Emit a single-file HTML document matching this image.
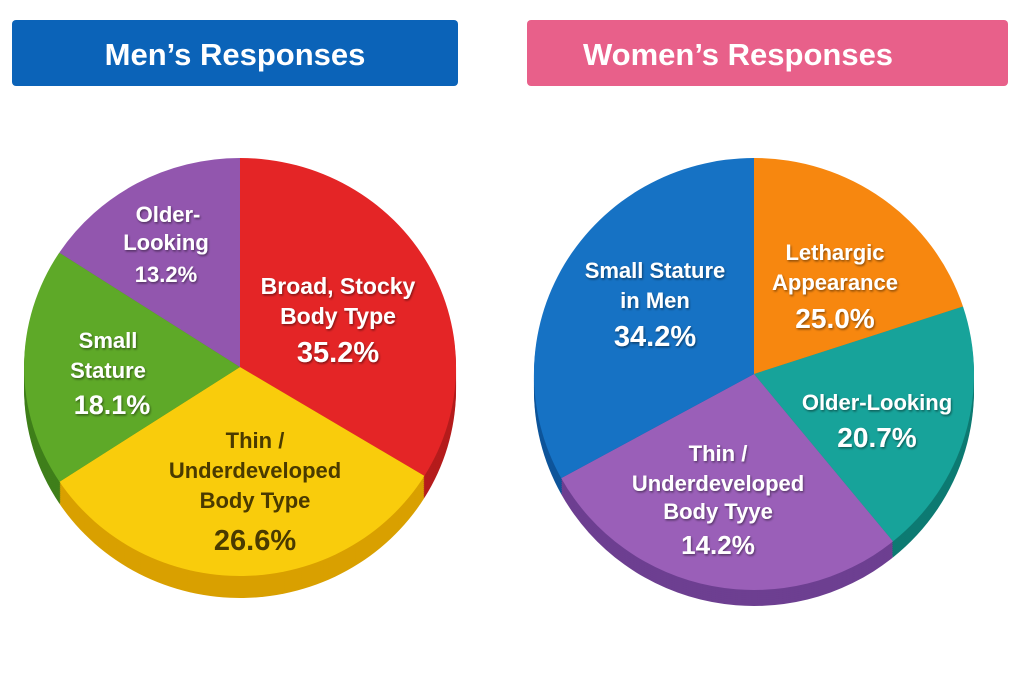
<!DOCTYPE html>
<html><head><meta charset="utf-8"><style>
html,body{margin:0;padding:0;background:#fff;width:1024px;height:683px;overflow:hidden}
text{font-family:"Liberation Sans",sans-serif;font-weight:bold}
</style></head><body>
<svg width="1024" height="683" viewBox="0 0 1024 683" xmlns="http://www.w3.org/2000/svg">
<defs><filter id="sh"><feDropShadow dx="1" dy="1.5" stdDeviation="1" flood-color="#000" flood-opacity="0.45"/></filter></defs>
<rect x="12" y="20" width="446" height="66" rx="4" fill="#0b63b8"/>
<text x="235" y="65" font-size="31" fill="#fff" text-anchor="middle">Men’s Responses</text>
<rect x="527" y="20" width="481" height="66" rx="4" fill="#e8608a"/>
<text x="738" y="65" font-size="31" fill="#fff" text-anchor="middle">Women’s Responses</text>
<g id="left"></g><g id="right"></g>
<g filter="url(#sh)" fill="#fff" text-anchor="middle">
<text x="168" y="222" font-size="22">Older-</text>
<text x="166" y="250" font-size="22">Looking</text>
<text x="166" y="282" font-size="22">13.2%</text>
<text x="338" y="294" font-size="23">Broad, Stocky</text>
<text x="338" y="324" font-size="23">Body Type</text>
<text x="338" y="362" font-size="29">35.2%</text>
<text x="108" y="348" font-size="22">Small</text>
<text x="108" y="378" font-size="22">Stature</text>
<text x="112" y="414" font-size="27">18.1%</text>
<text x="655" y="278" font-size="22">Small Stature</text>
<text x="655" y="308" font-size="22">in Men</text>
<text x="655" y="346" font-size="29">34.2%</text>
<text x="835" y="260" font-size="22">Lethargic</text>
<text x="835" y="290" font-size="22">Appearance</text>
<text x="835" y="328" font-size="28">25.0%</text>
<text x="877" y="410" font-size="22">Older-Looking</text>
<text x="877" y="447" font-size="28">20.7%</text>
<text x="718" y="461" font-size="22">Thin /</text>
<text x="718" y="491" font-size="22">Underdeveloped</text>
<text x="718" y="519" font-size="22">Body Tyye</text>
<text x="718" y="554" font-size="26">14.2%</text>
</g>
<g fill="#4a3a00" text-anchor="middle">
<text x="255" y="448" font-size="22">Thin /</text>
<text x="255" y="478" font-size="22">Underdeveloped</text>
<text x="255" y="508" font-size="22">Body Type</text>
<text x="255" y="550" font-size="29">26.6%</text>
</g>
</svg>
<script>
function pie(gid,cx,cy,rx,ry,d,sl){
 var g=document.getElementById(gid),h="";
 function pt(a,yo){a=a*Math.PI/180;return [(cx+rx*Math.sin(a)).toFixed(1),(cy-ry*Math.cos(a)+yo).toFixed(1)];}
 function path(a0,a1,yo,c){var p=pt(a0,yo),q=pt(a1,yo);return '<path d="M'+cx+','+(cy+yo)+' L'+p+' A'+rx+','+ry+' 0 '+((a1-a0)>180?1:0)+' 1 '+q+' Z" fill="'+c+'"/>';}
 for(var k=d;k>0;k-=2)sl.forEach(function(s){h+=path(s[0],s[1],k,s[3]);});
 sl.forEach(function(s){h+=path(s[0],s[1],0,s[2]);});
 g.innerHTML=h;
}
pie("left",240,367,216,209,22,[[0,121.4,"#e42526","#b51c1c"],[121.4,236.7,"#f9cc0c","#d9a000"],[236.7,303.2,"#5ea928","#3f7f1a"],[303.2,360,"#9256ae","#6e3c8a"]]);
pie("right",754,374,220,216,16,[[0,71.8,"#f7870f","#c96a08"],[71.8,140.8,"#17a39a","#0d7a72"],[140.8,241.2,"#9a5fb8","#6d3f91"],[241.2,360,"#1672c4","#0e559a"]]);
</script>
</body></html>
